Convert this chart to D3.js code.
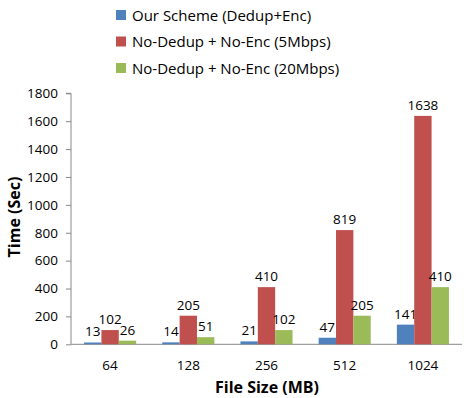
<!DOCTYPE html>
<html><head><meta charset="utf-8">
<script src="https://cdn.jsdelivr.net/npm/d3@7"></script>
<style>body{margin:0;background:#fff}svg{display:block}text{font-family:"Open Sans",Lato,sans-serif;fill:#000}</style>
</head><body><svg id="c" width="474" height="398"></svg>
<script>
const categories = ["64","128","256","512","1024"];
const seriesNames = ["Our Scheme (Dedup+Enc)","No-Dedup + No-Enc (5Mbps)","No-Dedup + No-Enc (20Mbps)"];
const ourScheme = [13,14,21,47,141];
const noDedup5 = [102,205,410,819,1638];
const noDedup20 = [26,51,102,205,410];
const yTicks = [0,200,400,600,800,1000,1200,1400,1600,1800];
const colors = ["#4F81BD","#C0504D","#9BBB59"];
const series = [ourScheme, noDedup5, noDedup20];

const svg = d3.select("#c");
const L=71, R=462, T=93.3, B=344.3;
const x = d3.scaleBand().domain(categories).range([L,R]);
const y = d3.scaleLinear().domain([0,1800]).range([B,T]);
const bw = x.bandwidth()*0.222;
const x1 = d3.scaleBand().domain(d3.range(3)).range([0, bw*3]);

// y axis
const ya = svg.append("g").attr("transform",`translate(${L},0)`)
  .call(d3.axisLeft(y).tickValues(yTicks).tickSize(5).tickPadding(8).tickFormat(d3.format("d")));
ya.select(".domain").attr("stroke","#888").attr("d",`M-5,${T}H0V${B}`);
ya.selectAll(".tick line").attr("stroke","#888");
ya.selectAll("text").attr("font-size","13.5px").attr("font-family","'Open Sans',sans-serif").attr("fill","#000");

// x axis line
svg.append("line").attr("x1",L).attr("x2",R).attr("y1",B).attr("y2",B).attr("stroke","#888");

// bars
const g = svg.append("g");
categories.forEach((c,i)=>{
  const gx = x(c) + (x.bandwidth()-bw*3)/2;
  series.forEach((s,j)=>{
    g.append("rect").attr("x",gx+x1(j)).attr("width",x1.bandwidth())
      .attr("y",y(s[i])).attr("height",B-y(s[i])).attr("fill",colors[j]);
    g.append("text").attr("x",gx+x1(j)+x1.bandwidth()/2).attr("y",y(s[i])-6)
      .attr("text-anchor","middle").attr("font-size","13.5px").text(s[i]);
  });
});

// x tick labels
svg.append("g").selectAll("text").data(categories).join("text")
  .attr("x",d=>x(d)+x.bandwidth()/2).attr("y",370).attr("text-anchor","middle")
  .attr("font-size","13.5px").text(d=>d);

// axis titles
svg.append("text").attr("x",267).attr("y",393).attr("text-anchor","middle")
  .attr("font-size","16px").attr("font-weight","bold").text("File Size (MB)");
svg.append("text").attr("transform","translate(20,217) rotate(-90)").attr("text-anchor","middle")
  .attr("font-size","16px").attr("font-weight","bold").text("Time (Sec)");

// legend
const lg = svg.append("g");
seriesNames.forEach((n,i)=>{
  const cy = 15 + i*26.5;
  lg.append("rect").attr("x",116).attr("y",cy-5).attr("width",10).attr("height",10).attr("fill",colors[i]);
  lg.append("text").attr("x",132).attr("y",cy+5.5).attr("font-size","15px").text(n);
});
</script></body></html>
